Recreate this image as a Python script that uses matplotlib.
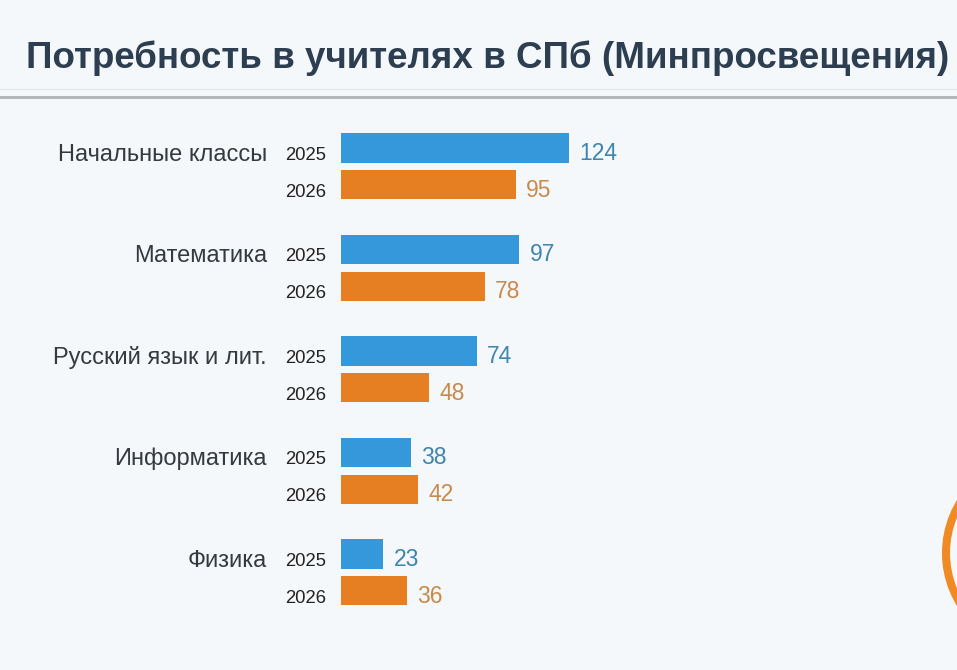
import numpy as np
import matplotlib.pyplot as plt
from matplotlib.patches import Circle
from matplotlib.lines import Line2D

categories = ['Начальные классы', 'Математика', 'Русский язык и лит.', 'Информатика', 'Физика']
years = ['2025', '2026']
need_2025 = [124, 97, 74, 38, 23]
need_2026 = [95, 78, 48, 42, 36]

title = 'Потребность в учителях в СПб (Минпросвещения)'

bg = '#f5f8fb'
bar_blue = '#3498db'
bar_orange = '#e67e22'
txt_blue = '#3f85ae'
txt_orange = '#c98a4b'

plt.rcParams['font.family'] = ['Liberation Sans', 'DejaVu Sans']

W, H = 9.57, 6.70
fig = plt.figure(figsize=(W, H), dpi=100, facecolor=bg)

# axes: x=0 sits at pixel 341, 1.84 px per unit; one group per 101.5 px
x0_px, px_per_unit = 341, 1.84
ax = fig.add_axes([x0_px / 957, 0, 1 - x0_px / 957, 1])
ax.set_facecolor('none')
ax.set_xlim(0, (957 - x0_px) / px_per_unit)
ax.set_ylim(4.961, -1.640)
ax.axis('off')

y = np.arange(len(categories))
off, h = 0.182, 0.286
ax.barh(y - off, need_2025, height=h, color=bar_blue)
ax.barh(y + off, need_2026, height=h, color=bar_orange)

base = 0.115  # baseline a bit below the bar middle
for i, cat in enumerate(categories):
    ax.text(-40.2, y[i] - off + 0.125, cat, ha='right', va='baseline', fontsize=17,
            color='#333a40', clip_on=False)
    ax.text(-8.2, y[i] - off + base, years[0], ha='right', va='baseline', fontsize=13.3,
            color='#222222', clip_on=False)
    ax.text(-8.2, y[i] + off + base, years[1], ha='right', va='baseline', fontsize=13.3,
            color='#222222', clip_on=False)
    ax.text(need_2025[i] + 5.5, y[i] - off + base, str(need_2025[i]), ha='left',
            va='baseline', fontsize=16.5, color=txt_blue)
    ax.text(need_2026[i] + 5.5, y[i] + off + base, str(need_2026[i]), ha='left',
            va='baseline', fontsize=16.5, color=txt_orange)

fig.text(488 / 957, 1 - 68 / 670, title, ha='center', va='baseline', fontsize=26.5,
         fontweight='bold', color='#2c3e50')

# divider under the title
fig.add_artist(Line2D([0, 1], [1 - 89 / 670] * 2, color='#e6e9ec', lw=1))
fig.add_artist(Line2D([0, 1], [1 - 96.5 / 670] * 2, color='#b4b8bc', lw=2.2))

# decorative ring cut by the right edge
fig.add_artist(Circle((10.43, 1.17), 0.97, transform=fig.dpi_scale_trans,
                      fill=False, ec='#f08a24', lw=5.8))

fig.savefig('out.png', dpi=100, facecolor=bg)
